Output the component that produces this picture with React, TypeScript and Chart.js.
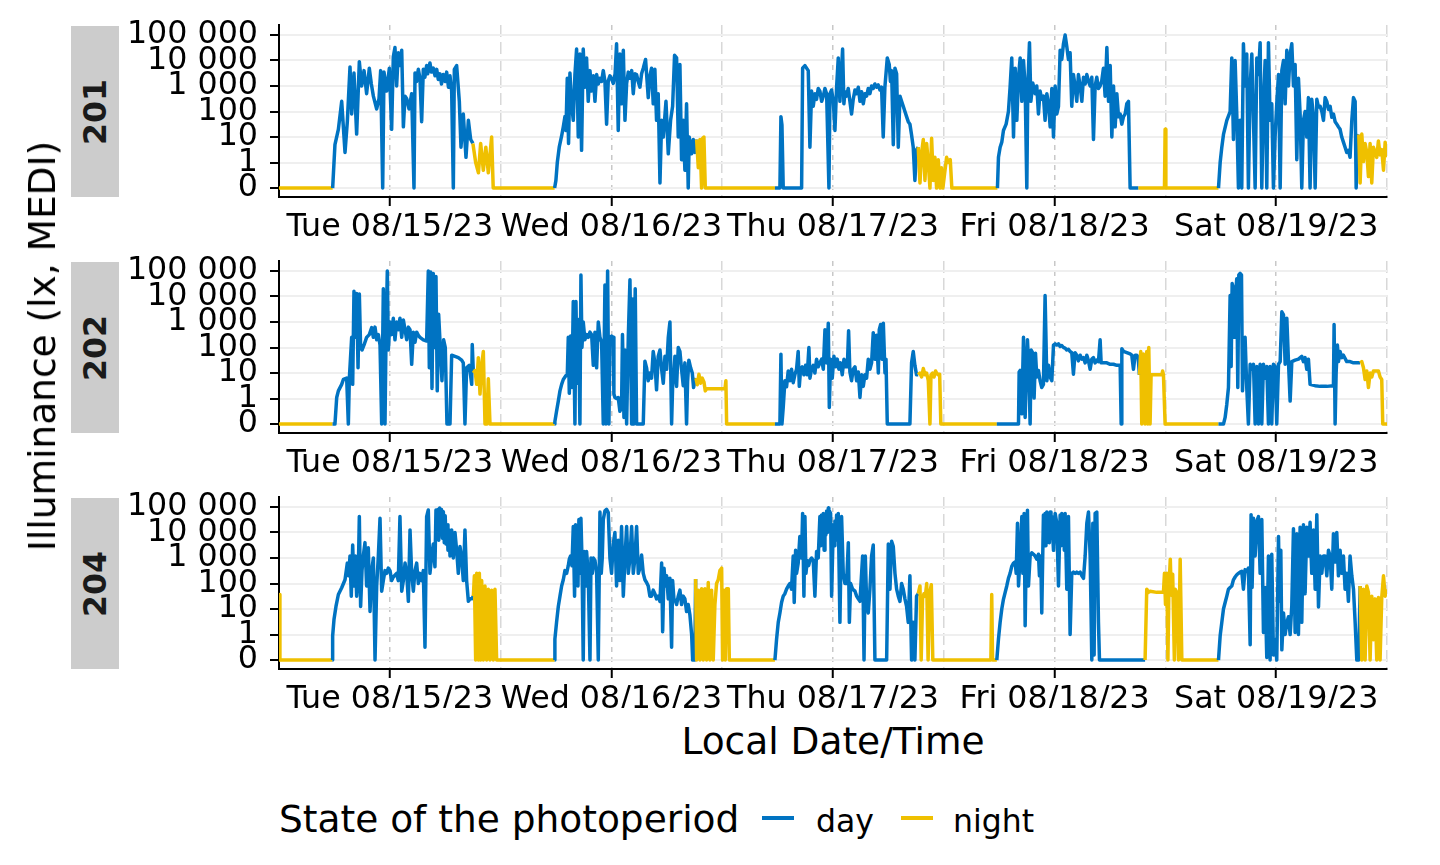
import React, { useEffect, useRef } from 'react';
import { Chart, registerables } from 'chart.js';

Chart.register(...registerables);

const DAY_COLOR = '#0073C2';
const NIGHT_COLOR = '#EFC000';
const FONT = '"DejaVu Sans", "Noto Sans", sans-serif';

// x axis: hours since Tue 08/15/23 00:00 (local)
const dayLabels = ['Tue 08/15/23', 'Wed 08/16/23', 'Thu 08/17/23', 'Fri 08/18/23', 'Sat 08/19/23'];
const noonTicks = [12, 36, 60, 84, 108];
const midnightTicks = [24, 48, 72, 96, 120];
// y axis: symlog positions and labels
const yTickValues = [0, 1, 2, 3, 4, 5, 6];
const yTickLabels = ['0', '1', '10', '100', '1 000', '10 000', '100 000'];
// photoperiod (day) intervals in hours
const dayStarts = [5.8, 29.85, 53.72, 77.75, 101.72];
const dayEnds = [20.95, 45.05, 69.07, 93.06, 116.95];

const participants = ['201', '202', '204'];

// [hour, illuminance lx MEDI]
const readings201: [number, number][] = [
  [0, 0], [5.81, 0], [6.06, 5], [6.43, 20], [6.79, 250], [7.15, 2.5], [7.4, 40], [7.69, 5600], [7.87, 80], [8.12, 3200], [8.41, 13],
  [8.7, 9000], [8.95, 1000], [9.21, 4000], [9.49, 500], [9.78, 5000], [10.0, 1200], [10.22, 400], [10.58, 126], [10.83, 316], [11.01, 4000],
  [11.23, 0], [11.37, 3500], [11.66, 630], [11.95, 5000], [12.2, 20], [12.38, 14000], [12.56, 32000], [12.74, 1000], [12.92, 20000],
  [13.1, 6300], [13.29, 25000], [13.47, 25], [13.65, 400], [13.83, 316], [14.08, 126], [14.37, 500], [14.62, 0], [14.73, 3200],
  [14.9, 1500], [15.09, 4500], [15.27, 2000], [15.45, 40], [15.63, 4500], [15.8, 2200], [15.99, 6300], [16.1, 3000], [16.35, 8000],
  [16.5, 3500], [16.71, 5000], [16.9, 2500], [17.08, 4500], [17.25, 1800], [17.44, 3000], [17.6, 1200], [17.8, 2800], [18.0, 1500],
  [18.16, 3500], [18.35, 900], [18.52, 2500], [18.7, 630], [18.88, 0], [18.99, 4500], [19.24, 6300], [19.53, 250], [19.71, 4],
  [19.96, 80], [20.25, 1.6], [20.51, 45], [20.76, 8],
  [21.0, 5.6], [21.3, 1], [21.6, 0.6], [21.84, 5.6], [22.13, 0.7], [22.4, 4], [22.67, 0.6], [23.03, 10], [23.2, 0],
  [29.85, 0], [29.99, 0.3], [30.14, 1], [30.35, 4], [30.61, 11], [30.79, 25], [30.97, 63], [31.08, 18], [31.22, 2000], [31.36, 5.6],
  [31.51, 3200], [31.69, 200], [31.87, 45], [32.05, 2800], [32.23, 28000], [32.41, 10], [32.59, 18000], [32.77, 3], [32.95, 28000],
  [33.13, 900], [33.31, 12600], [33.49, 250], [33.68, 4000], [33.86, 630], [34.04, 2500], [34.22, 250], [34.4, 2800], [34.58, 1200],
  [34.76, 2000], [34.94, 1500], [35.12, 4000], [35.3, 1500], [35.48, 32], [35.66, 1600], [35.84, 2500], [36.02, 1900], [36.2, 1260],
  [36.4, 3000], [36.56, 45000], [36.74, 18], [36.92, 18000], [37.1, 200], [37.29, 25000], [37.47, 45], [37.65, 1260], [37.83, 3500],
  [38.01, 2000], [38.2, 4000], [38.37, 500], [38.55, 3000], [38.73, 2800], [38.9, 1500], [39.09, 900], [39.27, 3000], [39.45, 5000],
  [39.7, 11000], [39.99, 350], [40.17, 2500], [40.35, 5000], [40.53, 200], [40.71, 4500], [40.89, 45], [41.07, 500], [41.26, 0.2],
  [41.44, 45], [41.62, 10], [41.91, 250], [42.16, 2.2], [42.41, 45], [42.63, 160], [42.84, 16000], [43.06, 12600], [43.24, 10],
  [43.42, 7000], [43.6, 1.3], [43.78, 45], [43.96, 0.7], [44.14, 200], [44.32, 0], [44.43, 10], [44.69, 2.2], [44.87, 8], [45.04, 2.5],
  [45.23, 8], [45.41, 0.8], [45.59, 8], [45.77, 0], [45.88, 9], [46.02, 10], [46.17, 0],
  [53.71, 0], [54.25, 0], [54.36, 63], [54.47, 30], [54.61, 0], [56.6, 0], [56.71, 5000], [56.96, 6300], [57.32, 4000], [57.5, 4],
  [57.68, 630], [57.86, 160], [58.04, 500], [58.22, 300], [58.4, 800], [58.58, 630], [58.77, 250], [58.95, 400], [59.13, 800],
  [59.31, 500], [59.56, 0], [59.67, 500], [59.85, 700], [60.03, 250], [60.21, 18], [60.39, 900], [60.57, 12600], [60.75, 250],
  [61.04, 28000], [61.18, 200], [61.3, 600], [61.47, 400], [61.65, 800], [61.83, 250], [62.01, 80], [62.19, 300], [62.38, 700],
  [62.56, 500], [62.74, 900], [62.92, 250], [63.1, 600], [63.28, 200], [63.46, 500], [63.64, 400], [63.82, 800], [64.0, 500],
  [64.18, 1000], [64.36, 800], [64.54, 1200], [64.72, 900], [64.9, 1100], [65.08, 700], [65.26, 900], [65.44, 10], [65.62, 900],
  [65.88, 12600], [66.09, 7000], [66.22, 1500], [66.35, 4000], [66.53, 5], [66.71, 5000], [66.89, 3000], [67.07, 4], [67.25, 400],
  [67.43, 250], [67.61, 160], [67.79, 100], [67.97, 63], [68.15, 40], [68.33, 32], [68.51, 12], [68.69, 4], [68.87, 0.3], [69.05, 3.2],
  [69.23, 4], [69.42, 0.2], [69.6, 2.5], [69.78, 8], [69.96, 0.3], [70.14, 5.6], [70.32, 1], [70.5, 0], [70.68, 9], [70.86, 0.3],
  [71.04, 1.6], [71.22, 0], [71.4, 1.3], [71.6, 0], [71.75, 0.8], [71.9, 0], [72.3, 1.6], [72.5, 1], [72.7, 1.3], [72.87, 0],
  [77.81, 0], [77.92, 1.6], [78.1, 4], [78.28, 6.3], [78.46, 18], [78.75, 32], [79.0, 100], [79.18, 900], [79.36, 12600], [79.55, 10],
  [79.73, 5000], [79.91, 45], [80.09, 2200], [80.27, 12600], [80.45, 250], [80.63, 10000], [80.81, 1000], [80.99, 0], [81.1, 1000],
  [81.28, 50000], [81.43, 250], [81.64, 1300], [81.89, 500], [82.07, 1000], [82.25, 80], [82.43, 630], [82.6, 300], [82.79, 400],
  [82.97, 45], [83.16, 500], [83.34, 200], [83.52, 25], [83.7, 800], [83.88, 10], [84.06, 1000], [84.24, 80], [84.42, 160],
  [84.6, 25000], [84.78, 11000], [84.96, 45000], [85.14, 100000], [85.32, 35000], [85.5, 11000], [85.68, 20000], [85.86, 160],
  [86.04, 2800], [86.22, 1000], [86.4, 250], [86.58, 2800], [86.77, 1000], [86.95, 250], [87.13, 2200], [87.31, 1200], [87.49, 2800],
  [87.67, 1500], [87.85, 1000], [88.03, 2200], [88.21, 8], [88.39, 1000], [88.57, 2200], [88.75, 800], [88.93, 1000], [89.11, 1600],
  [89.29, 5000], [89.47, 400], [89.66, 32000], [89.84, 250], [90.02, 6300], [90.2, 10], [90.38, 1000], [90.56, 25], [90.74, 500],
  [90.92, 63], [91.1, 80], [91.28, 32], [91.46, 63], [91.64, 80], [91.82, 200], [92.0, 250], [92.18, 0],
  [93.08, 0], [95.9, 0], [95.97, 20], [96.05, 0],
  [101.75, 0], [101.93, 1], [102.11, 4], [102.29, 12.6], [102.65, 45], [103.01, 100], [103.19, 12600], [103.37, 8], [103.55, 10000],
  [103.73, 80], [103.91, 0], [104.09, 45], [104.27, 0], [104.45, 45000], [104.63, 1000], [104.81, 18000], [104.99, 0], [105.18, 1000],
  [105.36, 18000], [105.54, 45], [105.72, 0], [105.9, 12600], [106.08, 2800], [106.26, 50000], [106.44, 0], [106.62, 200],
  [106.8, 10000], [106.98, 0], [107.16, 50000], [107.34, 45], [107.52, 200], [107.7, 0], [107.88, 10], [108.06, 200], [108.25, 2800],
  [108.43, 0], [108.61, 4000], [108.79, 10000], [108.97, 200], [109.15, 25000], [109.33, 1000], [109.51, 18000], [109.69, 45000],
  [109.87, 1000], [110.05, 7000], [110.23, 1.3], [110.41, 2000], [110.59, 80], [110.77, 0], [110.95, 45], [111.13, 100], [111.31, 10],
  [111.49, 350], [111.67, 0], [111.85, 300], [112.04, 63], [112.22, 0], [112.4, 300], [112.58, 150], [112.76, 160], [112.94, 100],
  [113.12, 45], [113.3, 350], [113.48, 250], [113.66, 120], [113.84, 160], [114.02, 60], [114.2, 80], [114.38, 40], [114.56, 32],
  [114.74, 25], [114.92, 20], [115.1, 10], [115.28, 6.3], [115.46, 4], [115.64, 2.5], [115.82, 3], [116.0, 1.6], [116.19, 45],
  [116.37, 350], [116.55, 250], [116.66, 0], [116.8, 10], [116.95, 12.6],
  [117.09, 0.2], [117.27, 13], [117.45, 1.1], [117.63, 5.6], [117.81, 2.5], [117.99, 0.45], [118.17, 5.6], [118.35, 0.2], [118.53, 4],
  [118.71, 2.5], [118.89, 1.6], [119.07, 7], [119.25, 2], [119.43, 3.2], [119.62, 0.7], [119.8, 6.3], [119.98, 1.6],
];

const readings202: [number, number][] = [
  [0, 0], [5.8, 0], [6.06, 0], [6.25, 1.1], [6.43, 2], [6.79, 3.6], [6.97, 5.6], [7.33, 6.3], [7.51, 0], [7.62, 6.3], [7.87, 250],
  [7.98, 3.6], [8.12, 16000], [8.27, 250], [8.41, 13000], [8.56, 16], [8.7, 12600], [8.84, 100], [8.99, 80], [9.21, 126], [9.49, 250],
  [9.78, 320], [10.04, 600], [10.22, 250], [10.4, 630], [10.58, 200], [10.76, 320], [10.94, 126], [11.12, 0], [11.3, 20000], [11.48, 0],
  [11.59, 250], [11.73, 100000], [11.84, 80], [12.02, 1000], [12.2, 320], [12.38, 1400], [12.56, 200], [12.74, 1000], [12.92, 500],
  [13.1, 1400], [13.29, 250], [13.47, 1200], [13.65, 500], [13.83, 200], [14.01, 630], [14.19, 500], [14.37, 22], [14.55, 400],
  [14.73, 160], [14.91, 400], [15.09, 300], [15.27, 250], [15.63, 200], [15.99, 180], [16.17, 100000], [16.28, 16], [16.43, 90000],
  [16.57, 2.5], [16.71, 80000], [16.86, 100], [17.0, 60000], [17.14, 2], [17.29, 2000], [17.47, 100], [17.65, 5], [17.83, 200],
  [18.01, 100], [18.19, 0], [18.52, 0], [18.7, 50], [19.06, 45], [19.42, 40], [19.78, 32], [19.96, 25], [20.14, 0], [20.32, 16],
  [20.61, 20], [20.87, 3.6], [20.93, 130],
  [21.05, 10], [21.23, 12.6], [21.41, 3.6], [21.59, 40], [21.77, 1.5], [21.95, 20], [22.13, 70], [22.31, 0], [22.5, 0], [22.67, 6],
  [22.85, 0],
  [29.85, 0], [29.88, 0.1], [30.06, 0.5], [30.25, 0.9], [30.43, 2], [30.61, 3.6], [30.79, 5.6], [31.08, 8], [31.22, 8], [31.33, 250],
  [31.44, 1.6], [31.58, 280], [31.73, 2.7], [31.87, 6300], [32.05, 0], [32.16, 6300], [32.3, 4], [32.45, 1260], [32.59, 0],
  [32.7, 70000], [32.81, 100], [32.95, 1000], [33.13, 200], [33.31, 320], [33.49, 250], [33.68, 400], [33.86, 320], [34.04, 20],
  [34.22, 400], [34.4, 16], [34.58, 1000], [34.76, 250], [34.94, 160], [35.12, 0], [35.3, 28000], [35.41, 0], [35.59, 100000],
  [35.73, 0], [35.84, 250], [36.02, 280], [36.2, 250], [36.27, 1.5], [36.38, 1.1], [36.56, 1], [36.74, 1.1], [36.92, 0.5], [37.1, 0.65],
  [37.2, 320], [37.36, 0.26], [37.47, 80], [37.65, 0], [37.83, 250], [38.01, 45000], [38.19, 0], [38.3, 8000], [38.44, 0],
  [38.58, 20000], [38.73, 0], [39.45, 0], [39.63, 29], [39.81, 16], [39.99, 5], [40.17, 10], [40.35, 6.3], [40.53, 70], [40.71, 25],
  [40.89, 2.2], [41.07, 45], [41.26, 80], [41.44, 14], [41.62, 4], [41.8, 45], [41.98, 14], [42.16, 250], [42.34, 1000], [42.52, 0],
  [42.63, 3], [42.77, 10], [42.88, 45], [43.06, 3], [43.24, 100], [43.42, 70], [43.6, 14], [43.78, 3.2], [43.96, 25], [44.14, 0],
  [44.25, 4.5], [44.39, 32], [44.58, 16], [44.76, 10], [44.9, 2.7], [45.04, 5],
  [45.16, 6.3], [45.3, 3.5], [45.48, 9], [45.66, 4], [45.84, 6.3], [46.02, 4.5], [46.17, 2], [46.31, 2.4], [48.3, 2.4], [48.4, 5],
  [48.48, 0],
  [53.71, 0], [54.25, 0], [54.36, 55], [54.47, 0], [54.61, 0.65], [54.79, 5], [54.97, 2.9], [55.15, 12], [55.33, 5], [55.51, 14],
  [55.69, 4.2], [55.87, 8.5], [56.05, 14], [56.23, 70], [56.35, 3], [56.49, 14], [56.67, 17.5], [56.85, 8.5], [57.03, 20], [57.21, 8.5],
  [57.39, 100], [57.5, 6.3], [57.68, 14], [57.86, 20], [58.04, 10], [58.22, 35], [58.4, 17.5], [58.58, 25], [58.77, 35], [58.95, 14],
  [59.13, 500], [59.31, 25], [59.49, 900], [59.6, 0.65], [59.74, 35], [59.92, 6.3], [60.1, 45], [60.28, 17.5], [60.46, 35],
  [60.64, 14], [60.82, 25], [61.0, 8.5], [61.19, 35], [61.37, 17.5], [61.55, 17.5], [61.69, 450], [61.83, 11], [62.01, 5],
  [62.19, 14], [62.38, 17.5], [62.56, 5], [62.74, 11], [62.92, 1.1], [63.1, 8.5], [63.28, 3], [63.46, 8.5], [63.64, 6.3], [63.82, 35],
  [64.0, 14], [64.18, 25], [64.36, 380], [64.54, 35], [64.72, 300], [64.91, 10], [65.01, 500], [65.16, 800], [65.31, 35], [65.45, 900],
  [65.63, 10], [65.74, 35], [65.88, 0], [68.33, 0], [68.51, 25], [68.69, 70], [68.87, 20], [69.05, 8.5],
  [69.23, 8.5], [69.42, 10], [69.6, 7], [69.78, 15], [69.96, 8.5], [70.14, 10], [70.32, 5], [70.5, 0], [70.61, 8.5], [70.79, 10],
  [70.94, 7], [71.11, 12], [71.22, 10], [71.4, 8.5], [71.55, 9], [71.68, 0],
  [77.74, 0], [80.09, 0], [80.16, 11], [80.27, 12.6], [80.45, 0.4], [80.63, 250], [80.81, 0.26], [80.92, 5.6], [81.06, 200],
  [81.21, 14], [81.35, 0], [81.46, 80], [81.64, 60], [81.78, 1.04], [81.93, 60], [82.07, 7], [82.25, 12.6], [82.43, 5], [82.61, 2.7],
  [82.79, 3.6], [82.97, 11000], [83.16, 5], [83.34, 20], [83.52, 7], [83.7, 5], [83.88, 125], [84.06, 140], [84.24, 125], [84.42, 140],
  [84.6, 110], [84.78, 120], [84.96, 100], [85.14, 95], [85.32, 80], [85.5, 85], [85.68, 70], [85.86, 63], [86.04, 9], [86.22, 63],
  [86.4, 50], [86.58, 30], [86.77, 50], [86.95, 35], [87.13, 40], [87.31, 25], [87.49, 50], [87.67, 30], [87.85, 14], [88.03, 35],
  [88.21, 40], [88.39, 25], [88.57, 32], [88.75, 28], [88.93, 200], [89.04, 25], [89.29, 25], [89.66, 25], [90.02, 22], [90.38, 22],
  [90.74, 20], [91.1, 20], [91.21, 0], [91.28, 90], [91.46, 70], [91.82, 63], [92.18, 56], [92.36, 50], [92.54, 14], [92.72, 50],
  [92.9, 50], [93.05, 40],
  [93.19, 8.5], [93.33, 70], [93.44, 0], [93.62, 56], [93.8, 0], [93.98, 70], [94.09, 0], [94.2, 100], [94.34, 0], [94.45, 8.5],
  [95.61, 8.5], [95.7, 12], [95.79, 8.5], [95.97, 0],
  [101.75, 0], [102.29, 0], [102.47, 0.26], [102.65, 0.78], [102.83, 2.7], [103.01, 11000], [103.12, 18], [103.23, 32000],
  [103.37, 20000], [103.48, 250], [103.59, 11000], [103.73, 50000], [103.84, 2.7], [103.95, 70000], [104.09, 80000], [104.24, 70000],
  [104.35, 2], [104.45, 22], [104.63, 250], [104.81, 2.7], [104.99, 0], [105.18, 22], [105.36, 14], [105.54, 22], [105.72, 0],
  [105.9, 18], [106.08, 0], [106.26, 22], [106.44, 0], [106.62, 22], [106.8, 6.3], [106.98, 18], [107.16, 0], [107.34, 18], [107.52, 0],
  [107.7, 22], [107.88, 18], [108.06, 0], [108.25, 22], [108.43, 28], [108.61, 2500], [108.79, 1900], [108.97, 22], [109.15, 1400],
  [109.33, 28], [109.51, 0.9], [109.69, 28], [110.05, 32], [110.41, 35], [110.77, 45], [110.95, 28], [111.13, 40], [111.31, 14],
  [111.49, 35], [111.67, 3.6], [112.2, 3.2], [112.76, 3], [113.48, 3], [114.2, 3.2], [114.27, 800], [114.38, 0], [114.49, 10],
  [114.63, 125], [114.74, 28], [114.92, 70], [115.1, 40], [115.28, 50], [115.64, 28], [116.0, 28], [116.37, 25], [116.94, 25],
  [117.09, 25], [117.27, 28], [117.45, 16], [117.63, 5.6], [117.81, 12], [117.99, 2.7], [118.17, 10], [118.35, 7], [118.53, 12],
  [119.07, 12], [119.25, 7], [119.43, 5.6], [119.54, 0], [120, 0],
];

const readings204: [number, number][] = [
  [0, 37], [0.1, 0], [5.78, 0], [5.81, 0.95], [5.96, 4], [6.17, 12.6], [6.43, 37], [6.79, 68], [7.15, 140], [7.4, 630], [7.55, 200],
  [7.69, 1200], [7.83, 32], [7.98, 3200], [8.12, 80], [8.27, 1200], [8.41, 32], [8.59, 320], [8.7, 42000], [8.84, 12.6], [8.99, 320],
  [9.13, 1200], [9.31, 4000], [9.49, 80], [9.67, 2500], [9.86, 8], [10.04, 320], [10.22, 1000], [10.4, 0], [10.58, 80], [10.76, 1200],
  [10.94, 36000], [11.12, 50], [11.3, 130], [11.48, 320], [11.66, 250], [11.84, 400], [12.02, 320], [12.2, 130], [12.38, 180],
  [12.74, 250], [12.92, 130], [13.1, 42000], [13.29, 50], [13.47, 130], [13.65, 630], [13.83, 250], [14.01, 20], [14.19, 12600],
  [14.37, 250], [14.55, 50], [14.73, 320], [14.91, 630], [15.09, 100], [15.27, 250], [15.45, 130], [15.63, 320], [15.81, 0.5],
  [15.99, 42000], [16.17, 76000], [16.35, 250], [16.53, 1200], [16.71, 3500], [16.89, 450], [17.0, 76000], [17.1, 8000], [17.2, 80000],
  [17.3, 5000], [17.4, 90000], [17.5, 10000], [17.6, 80000], [17.7, 6000], [17.8, 65000], [17.9, 4000], [18.0, 45000], [18.1, 3500],
  [18.2, 20000], [18.3, 2000], [18.42, 12600], [18.52, 1200], [18.7, 12600], [18.88, 1000], [19.06, 10000], [19.24, 2000],
  [19.42, 250], [19.6, 2800], [19.78, 1000], [19.96, 130], [20.14, 12600], [20.32, 130], [20.51, 20], [20.69, 25], [20.87, 25],
  [21.05, 32], [21.16, 200], [21.3, 0], [21.41, 250], [21.59, 0], [21.7, 250], [21.84, 0], [21.95, 130], [22.13, 0], [22.31, 80],
  [22.49, 0], [22.67, 60], [22.85, 0], [23.03, 55], [23.21, 0], [23.39, 60], [23.57, 0],
  [29.85, 0], [29.88, 0.82], [30.06, 3], [30.25, 12.6], [30.43, 32], [30.61, 80], [30.79, 140], [30.97, 320], [31.15, 250],
  [31.33, 500], [31.44, 900], [31.58, 1200], [31.73, 500], [31.87, 17000], [32.01, 32], [32.12, 20000], [32.23, 1000], [32.38, 80],
  [32.48, 32000], [32.59, 250], [32.7, 36000], [32.81, 1000], [32.95, 0], [33.06, 1800], [33.2, 80], [33.31, 1800], [33.49, 250],
  [33.68, 0], [33.79, 1000], [33.93, 250], [34.04, 1000], [34.22, 800], [34.4, 250], [34.58, 0], [34.76, 63000], [34.9, 250],
  [35.01, 1000], [35.12, 32000], [35.3, 70000], [35.48, 80000], [35.66, 60000], [35.84, 1000], [36.02, 250], [36.2, 3500],
  [36.38, 10000], [36.56, 80], [36.74, 5000], [36.92, 130], [37.1, 17000], [37.29, 32], [37.47, 1000], [37.65, 17000], [37.83, 250],
  [38.01, 1000], [38.19, 17000], [38.37, 250], [38.55, 1000], [38.73, 17000], [38.91, 250], [39.09, 400], [39.27, 1300], [39.45, 250],
  [39.63, 140], [39.81, 110], [39.99, 80], [40.17, 32], [40.35, 32], [40.53, 55], [40.71, 40], [40.89, 25], [41.07, 32], [41.26, 20],
  [41.44, 630], [41.55, 1.3], [41.7, 400], [41.84, 80], [41.98, 200], [42.16, 25], [42.34, 160], [42.52, 0.5], [42.63, 130],
  [42.77, 25], [42.95, 20], [43.06, 15], [43.24, 32], [43.42, 55], [43.6, 15], [43.78, 32], [43.96, 25], [44.14, 8], [44.32, 15],
  [44.5, 6], [44.69, 1], [44.8, 0], [45.04, 0],
  [45.12, 150], [45.23, 0], [45.41, 55], [45.59, 0], [45.77, 63], [45.95, 0], [46.13, 63], [46.31, 0], [46.49, 110], [46.67, 0],
  [46.85, 55], [47.03, 0], [47.21, 15], [47.39, 100], [47.57, 140], [47.75, 320], [47.94, 400], [48.04, 0], [48.19, 55], [48.33, 0],
  [48.48, 63], [48.66, 63], [48.77, 0],
  [53.71, 0], [53.89, 0.82], [54.07, 3], [54.25, 7], [54.43, 18], [54.61, 32], [54.79, 40], [54.97, 60], [55.15, 80], [55.33, 100],
  [55.51, 60], [55.69, 1200], [55.8, 18], [55.95, 2000], [56.05, 250], [56.23, 630], [56.41, 7000], [56.59, 1000], [56.71, 56000],
  [56.85, 32], [56.96, 42000], [57.07, 250], [57.21, 800], [57.36, 500], [57.5, 800], [57.68, 1000], [57.86, 800], [58.04, 32],
  [58.22, 1800], [58.4, 1000], [58.58, 42000], [58.68, 3000], [58.77, 48000], [58.86, 5000], [58.95, 56000], [59.04, 2000],
  [59.13, 42000], [59.22, 8000], [59.31, 70000], [59.4, 10000], [59.49, 90000], [59.55, 20000], [59.6, 70000], [59.74, 56000],
  [59.85, 32], [60.03, 20000], [60.12, 3000], [60.21, 28000], [60.3, 5000], [60.39, 48000], [60.48, 8000], [60.57, 56000], [60.75, 3],
  [60.93, 42000], [61.11, 250], [61.29, 100], [61.47, 100], [61.66, 4000], [61.77, 3], [61.91, 100], [62.12, 60], [62.38, 50],
  [62.56, 32], [62.74, 25], [62.92, 20], [63.21, 1200], [63.36, 0], [63.5, 1200], [63.64, 20], [63.82, 7], [64.0, 60], [64.18, 1200],
  [64.36, 3200], [64.54, 0], [65.81, 0], [65.99, 3500], [66.17, 60], [66.35, 4500], [66.53, 2800], [66.71, 250], [66.89, 60],
  [67.07, 32], [67.25, 20], [67.43, 100], [67.61, 60], [67.79, 25], [67.97, 12.6], [68.15, 3], [68.33, 200], [68.51, 0], [68.69, 3],
  [68.87, 0], [69.05, 32],
  [69.23, 40], [69.42, 80], [69.55, 0], [69.7, 25], [69.85, 40], [70.0, 32], [70.15, 100], [70.3, 0], [70.45, 40], [70.65, 90],
  [70.81, 0], [77.1, 0], [77.19, 37], [77.28, 0],
  [77.74, 0], [77.92, 0.82], [78.1, 3], [78.28, 10], [78.46, 24], [78.64, 44], [78.82, 80], [79.0, 160], [79.18, 250], [79.36, 470],
  [79.55, 630], [79.73, 700], [79.84, 250], [79.98, 23000], [80.09, 80], [80.27, 1200], [80.45, 42000], [80.56, 250], [80.7, 56000],
  [80.81, 2.2], [80.92, 1200], [81.06, 75000], [81.17, 80], [81.35, 1200], [81.53, 1600], [81.71, 1400], [81.89, 1200], [82.07, 900],
  [82.25, 1400], [82.36, 200], [82.5, 1200], [82.61, 7], [82.79, 48000], [82.88, 5000], [82.97, 56000], [83.06, 3000], [83.16, 63000],
  [83.25, 10000], [83.34, 56000], [83.43, 4000], [83.52, 63000], [83.61, 8000], [83.7, 42000], [83.88, 2000], [84.06, 56000],
  [84.24, 23000], [84.42, 80], [84.6, 48000], [84.69, 3000], [84.78, 56000], [84.87, 5000], [84.96, 42000], [85.05, 2000],
  [85.14, 56000], [85.32, 60], [85.5, 42000], [85.68, 1], [85.86, 250], [86.04, 280], [86.22, 250], [86.4, 280], [86.58, 250],
  [86.77, 280], [86.95, 200], [87.13, 160], [87.31, 1200], [87.49, 23000], [87.67, 63000], [87.85, 1200], [88.03, 0], [88.14, 23000],
  [88.28, 0.2], [88.39, 56000], [88.57, 63000], [88.75, 3], [88.86, 0], [93.05, 0],
  [93.8, 0], [93.98, 60], [94.16, 45], [94.34, 50], [95.07, 45], [95.79, 45], [95.9, 250], [96.01, 15], [96.16, 250], [96.27, 0],
  [96.38, 60], [96.53, 900], [96.64, 35], [96.79, 230], [96.97, 0], [97.05, 60], [97.23, 45], [97.42, 0], [97.6, 900], [97.78, 0],
  [101.75, 0], [101.93, 0.95], [102.11, 3], [102.29, 10], [102.47, 18], [102.65, 32], [102.83, 60], [103.01, 70], [103.19, 80],
  [103.37, 140], [103.55, 180], [103.73, 220], [103.91, 250], [104.09, 280], [104.27, 300], [104.45, 60], [104.63, 350],
  [104.81, 300], [104.99, 400], [105.18, 0.6], [105.28, 50000], [105.39, 70], [105.54, 36000], [105.72, 1200], [105.9, 28000],
  [106.08, 42000], [106.26, 250], [106.44, 32000], [106.62, 1.2], [106.8, 70], [106.98, 0.1], [107.16, 1200], [107.34, 0],
  [107.52, 1400], [107.7, 0.2], [107.88, 0.8], [108.06, 0], [108.25, 7000], [108.36, 20], [108.5, 2000], [108.61, 0.4], [108.79, 7],
  [108.97, 1], [109.15, 3], [109.33, 5], [109.51, 1], [109.69, 14], [109.87, 14000], [110.05, 1.2], [110.23, 9000], [110.41, 1],
  [110.59, 16000], [110.77, 3], [110.95, 20000], [111.13, 40], [111.31, 16000], [111.49, 1200], [111.67, 25000], [111.85, 250],
  [112.04, 12600], [112.22, 60], [112.4, 50000], [112.58, 12], [112.76, 1200], [112.94, 250], [113.12, 1200], [113.3, 1200],
  [113.48, 200], [113.66, 2000], [113.84, 1200], [114.02, 60], [114.2, 9000], [114.38, 700], [114.56, 10000], [114.74, 200],
  [114.92, 2000], [115.1, 250], [115.28, 1200], [115.46, 60], [115.64, 250], [115.82, 20], [116.0, 1200], [116.19, 200], [116.37, 60],
  [116.55, 3], [116.73, 0], [116.94, 0],
  [117.09, 80], [117.27, 0], [117.45, 60], [117.63, 0], [117.81, 80], [117.99, 45], [118.17, 0], [118.35, 32], [118.53, 0.8],
  [118.71, 25], [118.89, 0], [119.07, 28], [119.25, 0], [119.43, 28], [119.62, 200], [119.8, 32], [119.98, 60],
];

const panelReadings = [readings201, readings202, readings204];

const PANEL_H = 236;
const TICK_FONT = 31.7;

function symlog(v: number): number {
  return v <= 1 ? v : 1 + Math.log10(v);
}

function isDay(h: number): boolean {
  for (let i = 0; i < dayStarts.length; i++) {
    if (h >= dayStarts[i] - 0.02 && h < dayEnds[i]) return true;
  }
  return false;
}

function isNoon(v: number | undefined): boolean {
  return v !== undefined && noonTicks.indexOf(v) >= 0;
}

function Panel({ index }: { index: number }) {
  const ref = useRef<HTMLCanvasElement | null>(null);
  useEffect(() => {
    if (!ref.current) return;
    const readings = panelReadings[index];
    const chart = new Chart(ref.current, {
      type: 'line',
      data: {
        datasets: [
          {
            label: participants[index],
            data: readings.map(([h, v]) => ({ x: h, y: symlog(v) })),
            borderColor: DAY_COLOR,
            borderWidth: 3.5,
            pointRadius: 0,
            tension: 0,
            fill: false,
            borderJoinStyle: 'round',
            borderCapStyle: 'butt',
            segment: {
              borderColor: (c: any) => (isDay(c.p0.parsed.x) ? DAY_COLOR : NIGHT_COLOR),
            },
          } as any,
        ],
      },
      options: {
        responsive: false,
        animation: false,
        devicePixelRatio: 1,
        events: [],
        layout: { padding: { top: 25, right: 53, bottom: 0, left: 0 } },
        plugins: { legend: { display: false }, tooltip: { enabled: false } },
        scales: {
          x: {
            type: 'linear',
            min: 0,
            max: 120,
            afterBuildTicks: (axis: any) => {
              axis.ticks = [...noonTicks, ...midnightTicks].sort((a, b) => a - b).map((v) => ({ value: v }));
            },
            afterFit: (axis: any) => {
              axis.height = 39;
              axis.paddingLeft = 0;
              axis.paddingRight = 0;
            },
            ticks: {
              autoSkip: false,
              maxRotation: 0,
              minRotation: 0,
              padding: 3,
              color: '#000000',
              font: { family: FONT, size: TICK_FONT },
              callback: (v: any) => {
                const i = noonTicks.indexOf(Number(v));
                return i >= 0 ? dayLabels[i] : '';
              },
            },
            grid: {
              color: (c: any) => (isNoon(c.tick?.value) ? '#c8c8c8' : '#d8d8d8'),
              lineWidth: 1.5,
              tickLength: 9,
              tickWidth: 2,
              tickColor: (c: any) => (isNoon(c.tick?.value) ? '#000000' : 'rgba(0,0,0,0)'),
            },
            border: {
              display: true,
              color: '#000000',
              width: 2,
              dash: (c: any) => (c.tick ? (isNoon(c.tick.value) ? [5, 5] : [12, 5]) : []),
            },
          } as any,
          y: {
            type: 'linear',
            min: -0.35,
            max: 6.39,
            afterBuildTicks: (axis: any) => {
              axis.ticks = yTickValues.map((v) => ({ value: v }));
            },
            afterFit: (axis: any) => {
              axis.width = 279;
              axis.paddingTop = 0;
              axis.paddingBottom = 0;
            },
            ticks: {
              autoSkip: false,
              padding: 12,
              color: '#000000',
              font: { family: FONT, size: TICK_FONT },
              callback: (v: any) => {
                const i = yTickValues.indexOf(Number(v));
                return i >= 0 ? yTickLabels[i] : '';
              },
            },
            grid: {
              color: '#efefef',
              lineWidth: 2,
              tickLength: 9,
              tickWidth: 2,
              tickColor: '#000000',
            },
            border: { display: true, color: '#000000', width: 2 },
          } as any,
        },
      },
    });
    return () => chart.destroy();
  }, [index]);

  const top = index * PANEL_H;
  return (
    <>
      <canvas
        ref={ref}
        width={1440}
        height={PANEL_H}
        style={{ position: 'absolute', left: 0, top, width: 1440, height: PANEL_H }}
      />
      <div
        style={{
          position: 'absolute',
          left: 71,
          top: top + 26,
          width: 48,
          height: 171,
          background: '#CCCCCC',
          display: 'flex',
          alignItems: 'center',
          justifyContent: 'center',
        }}
      >
        <div
          style={{
            transform: 'rotate(-90deg)',
            fontFamily: FONT,
            fontWeight: 'bold',
            fontSize: 31.5,
            lineHeight: '32px',
            color: '#1a1a1a',
            whiteSpace: 'nowrap',
          }}
        >
          {participants[index]}
        </div>
      </div>
    </>
  );
}

export default function App() {
  return (
    <div
      style={{
        position: 'fixed',
        left: 0,
        top: 0,
        width: 1440,
        height: 865,
        background: '#ffffff',
        overflow: 'hidden',
        fontFamily: FONT,
      }}
    >
      {participants.map((p, i) => (
        <Panel key={p} index={i} />
      ))}
      <div
        style={{
          position: 'absolute',
          left: 42,
          top: 346,
          transform: 'translate(-50%, -50%) rotate(-90deg)',
          fontSize: 37.5,
          lineHeight: '38px',
          whiteSpace: 'nowrap',
          color: '#000',
        }}
      >
        Illuminance (lx, MEDI)
      </div>
      <div
        style={{
          position: 'absolute',
          left: 833,
          top: 722,
          transform: 'translateX(-50%)',
          fontSize: 37.5,
          lineHeight: '38px',
          whiteSpace: 'nowrap',
          color: '#000',
        }}
      >
        Local Date/Time
      </div>
      <div
        style={{ position: 'absolute', left: 279, top: 800, fontSize: 37.5, lineHeight: '38px', whiteSpace: 'nowrap', color: '#000' }}
      >
        State of the photoperiod
      </div>
      <div style={{ position: 'absolute', left: 762, top: 816, width: 32, height: 4, background: DAY_COLOR }} />
      <div
        style={{ position: 'absolute', left: 816, top: 805, fontSize: 31.5, lineHeight: '32px', whiteSpace: 'nowrap', color: '#000' }}
      >
        day
      </div>
      <div style={{ position: 'absolute', left: 901, top: 816, width: 32, height: 4, background: NIGHT_COLOR }} />
      <div
        style={{ position: 'absolute', left: 953, top: 805, fontSize: 31.5, lineHeight: '32px', whiteSpace: 'nowrap', color: '#000' }}
      >
        night
      </div>
    </div>
  );
}
